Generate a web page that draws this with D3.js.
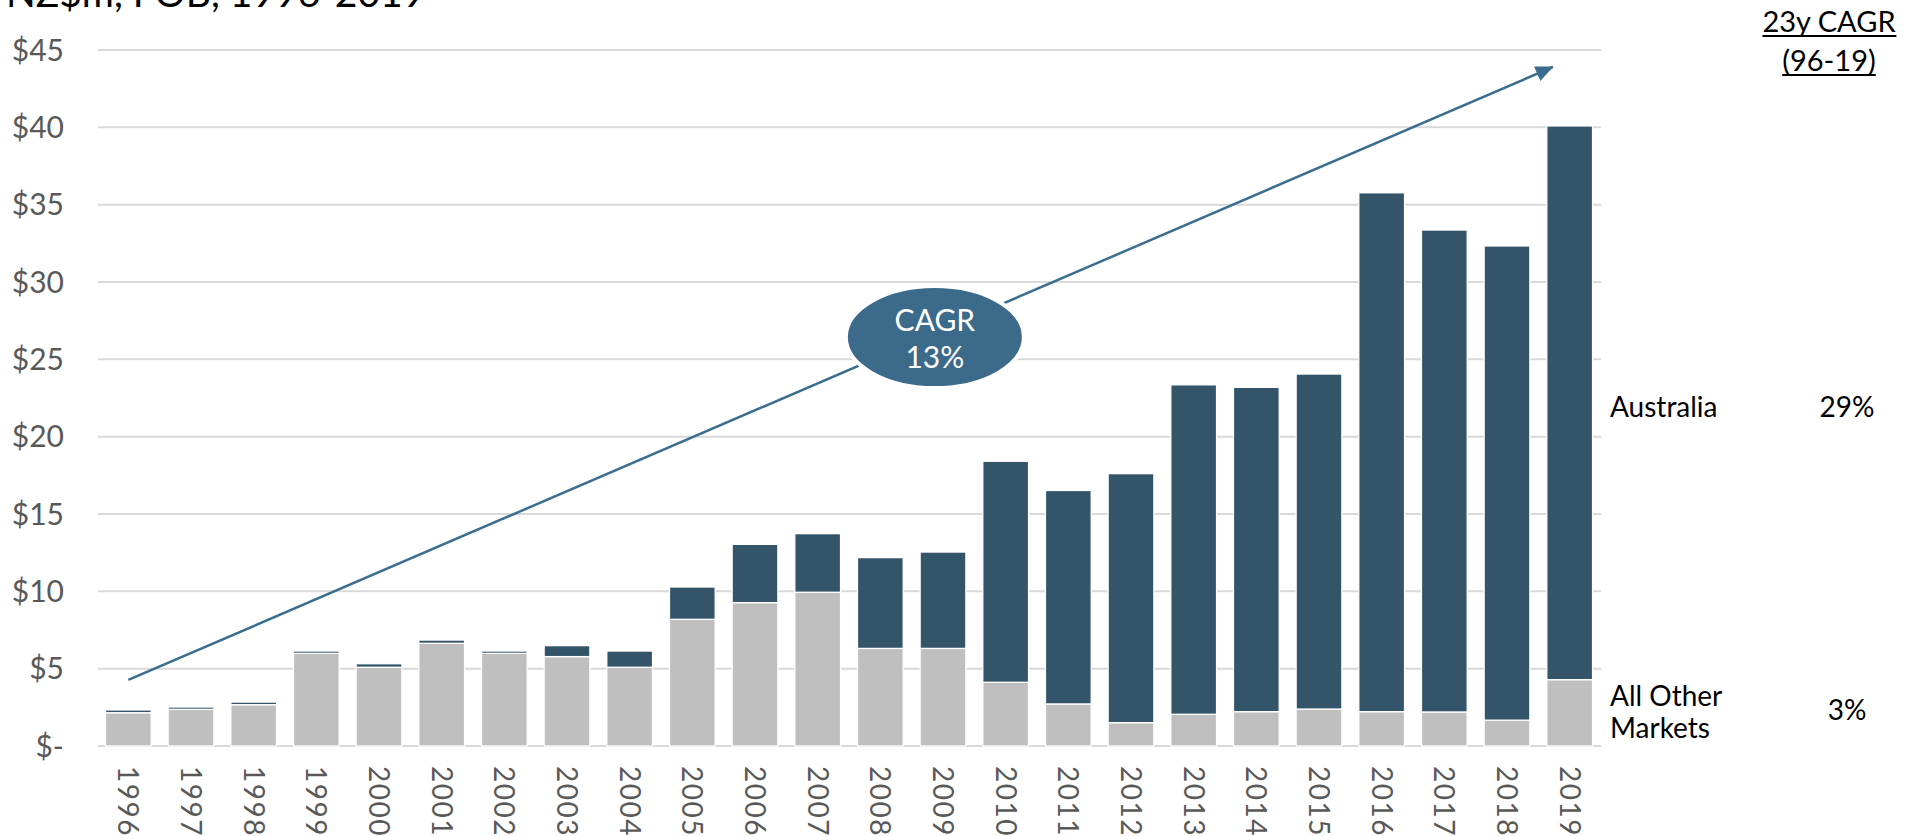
<!DOCTYPE html>
<html>
<head>
<meta charset="utf-8">
<script src="https://cdn.jsdelivr.net/npm/d3@7"></script>
<style>
  html, body { margin: 0; padding: 0; background: #ffffff; }
  svg { display: block; }
  text { font-family: Lato, "Noto Sans", sans-serif; }
</style>
</head>
<body>
<script>
// ---------- data ----------
const years = ["1996","1997","1998","1999","2000","2001","2002","2003","2004","2005","2006","2007",
               "2008","2009","2010","2011","2012","2013","2014","2015","2016","2017","2018","2019"];
const allOtherMarkets = [2.15, 2.37, 2.67, 5.99, 5.09, 6.64, 5.99, 5.78, 5.09, 8.19, 9.27, 9.94,
                         6.31, 6.31, 4.12, 2.72, 1.51, 2.05, 2.22, 2.39, 2.22, 2.20, 1.67, 4.29];
const australia = [0.18, 0.15, 0.17, 0.15, 0.23, 0.21, 0.15, 0.71, 1.05, 2.09, 3.77, 3.79,
                   5.87, 6.23, 14.29, 13.80, 16.10, 21.30, 20.97, 21.66, 33.55, 31.16, 30.66, 35.80];
const yTicks = [0, 5, 10, 15, 20, 25, 30, 35, 40, 45];
const yTickLabels = ["$-", "$5", "$10", "$15", "$20", "$25", "$30", "$35", "$40", "$45"];
const seriesNames = ["All Other\nMarkets", "Australia"];
const seriesCagr = ["3%", "29%"];
const cagrHeader = ["23y CAGR", "(96-19)"];
const overallCagr = ["CAGR", "13%"];
// arrow annotation: [band index offset from 1996, value]
const arrowStart = [0, 4.27];
const arrowEnd = [22.73, 43.9];
const bubbleCenter = [12.87, 26.44];
const titleText = "NZ$m, FOB, 1996-2019";

// ---------- layout ----------
const W = 1918, H = 836;
const svg = d3.select("body").append("svg").attr("width", W).attr("height", H);

const x = d3.scaleBand().domain(years).range([97, 1601]).paddingInner(0.27).paddingOuter(0.135);
const y = d3.scaleLinear().domain([0, 45]).range([746, 50]);
const idx = i => x(years[0]) + x.bandwidth() / 2 + i * x.step();

const colors = { other: "#bfbfbf", australia: "#34546a" };
const labelGray = "#595959";

// title (partially cut off at top, as in the source)
svg.append("text").attr("x", 6).attr("y", 7)
  .attr("font-size", 39).attr("fill", "#000").text(titleText);

// gridlines
svg.append("g").selectAll("line").data(yTicks).join("line")
  .attr("x1", 98).attr("x2", 1601)
  .attr("y1", d => y(d)).attr("y2", d => y(d))
  .attr("stroke", "#d9d9d9").attr("stroke-width", 2);

// y tick labels
svg.append("g").selectAll("text").data(yTicks).join("text")
  .attr("x", 64).attr("y", d => y(d)).attr("dy", "0.36em")
  .attr("text-anchor", "end").attr("font-size", 30).attr("fill", labelGray)
  .text((d, i) => yTickLabels[i]);

// arrow marker
const defs = svg.append("defs");
defs.append("marker").attr("id", "ah").attr("markerUnits", "userSpaceOnUse")
  .attr("markerWidth", 20).attr("markerHeight", 18).attr("refX", 17).attr("refY", 8)
  .attr("orient", "auto")
  .append("path").attr("d", "M0,0 L18,8 L0,16 Z").attr("fill", "#3b6d8e");

// stacked bars
const rows = years.map((yr, i) => ({ year: yr, other: allOtherMarkets[i], australia: australia[i] }));
const stack = d3.stack().keys(["other", "australia"])(rows);
svg.append("g").selectAll("g").data(stack).join("g")
  .attr("fill", d => colors[d.key])
  .selectAll("rect").data(d => d).join("rect")
  .attr("x", d => x(d.data.year))
  .attr("width", x.bandwidth())
  .attr("y", d => y(d[1]))
  .attr("height", d => y(d[0]) - y(d[1]))
  .attr("stroke", "#ffffff").attr("stroke-width", 1.3);

svg.append("line")
  .attr("x1", idx(arrowStart[0])).attr("y1", y(arrowStart[1]))
  .attr("x2", idx(arrowEnd[0])).attr("y2", y(arrowEnd[1]))
  .attr("stroke", "#3b6d8e").attr("stroke-width", 2.5)
  .attr("marker-end", "url(#ah)");

// CAGR bubble
const bx = idx(bubbleCenter[0]), by = y(bubbleCenter[1]);
svg.append("ellipse").attr("cx", bx).attr("cy", by).attr("rx", 89).attr("ry", 51)
  .attr("fill", "#3c6a8a").attr("stroke", "#ffffff").attr("stroke-width", 4);
svg.append("text").attr("x", bx).attr("y", by - 6).attr("text-anchor", "middle")
  .attr("font-size", 30).attr("fill", "#ffffff").text(overallCagr[0]);
svg.append("text").attr("x", bx).attr("y", by + 31).attr("text-anchor", "middle")
  .attr("font-size", 30).attr("fill", "#ffffff").text(overallCagr[1]);

// x labels, rotated
svg.append("g").selectAll("text").data(years).join("text")
  .attr("transform", d => `translate(${x(d) + x.bandwidth() / 2},766) rotate(90)`)
  .attr("dy", "0.36em").attr("text-anchor", "start")
  .attr("font-size", 28).attr("letter-spacing", 1.5).attr("fill", labelGray)
  .text(d => d);

// right-hand labels
const rx = 1610, cx = 1847, fs = 28;
svg.append("text").attr("x", rx).attr("y", 417).attr("font-size", fs).attr("fill", "#000").text(seriesNames[1]);
svg.append("text").attr("x", cx).attr("y", 417).attr("text-anchor", "middle").attr("font-size", fs).attr("fill", "#000").text(seriesCagr[1]);
const oth = seriesNames[0].split("\n");
svg.append("text").attr("x", rx).attr("y", 706).attr("font-size", fs).attr("fill", "#000").text(oth[0]);
svg.append("text").attr("x", rx).attr("y", 738).attr("font-size", fs).attr("fill", "#000").text(oth[1]);
svg.append("text").attr("x", cx).attr("y", 720).attr("text-anchor", "middle").attr("font-size", fs).attr("fill", "#000").text(seriesCagr[0]);

// CAGR header, underlined
[[cagrHeader[0], 32], [cagrHeader[1], 71]].forEach(([t, yy]) => {
  const tx = svg.append("text").attr("x", 1829).attr("y", yy).attr("text-anchor", "middle")
    .attr("font-size", 29).attr("fill", "#000").text(t);
  const bb = tx.node().getBBox();
  svg.append("line").attr("x1", bb.x).attr("x2", bb.x + bb.width)
    .attr("y1", yy + 4).attr("y2", yy + 4).attr("stroke", "#000").attr("stroke-width", 1.8);
});
</script>
</body>
</html>
